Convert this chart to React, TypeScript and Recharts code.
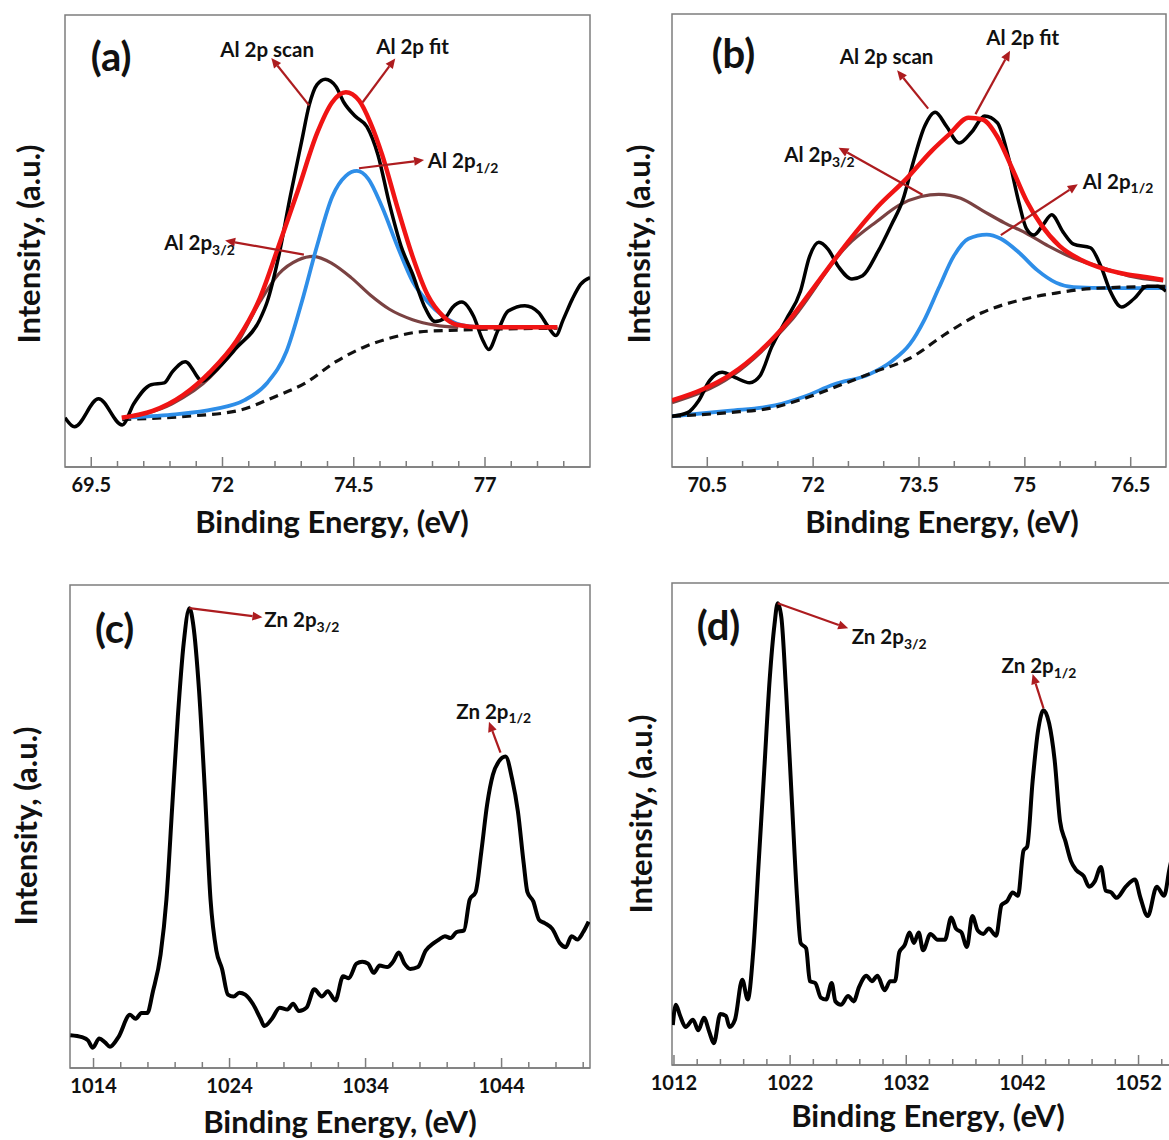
import React from "react";
import { LineChart, Line, XAxis, YAxis, ReferenceArea, ReferenceLine, ReferenceDot } from "recharts";

type Pt = [number, number];

const FONT = "Lato, 'Open Sans', sans-serif";
const ARROW = "#ad1c1f";
const BOX = "#7d7d7d";

// ---------- panel (a): Al 2p ----------
const aTicks = [69.5, 70, 70.5, 71, 71.5, 72, 72.5, 73, 73.5, 74, 74.5, 75, 75.5, 76, 76.5, 77, 77.5, 78, 78.5];
const aMajor = [69.5, 72, 74.5, 77];

const aScan: Pt[] = [
  [69.0, 10.9], [69.18, 8.9], [69.64, 15.1], [70.09, 9.3], [70.31, 14], [70.64, 18.2], [70.89, 18.6],
  [71.04, 21], [71.29, 23.3], [71.62, 19.0], [71.84, 21], [72.27, 26.4], [72.71, 32.6], [72.85, 36.5],
  [73.07, 46.6], [73.29, 59.8], [73.51, 72.2], [73.65, 80], [73.8, 84.6], [73.96, 85.8], [74.16, 84.2],
  [74.31, 80.7], [74.53, 77.6], [74.75, 75.3], [74.96, 69.1], [75.18, 58.2], [75.4, 48.9], [75.62, 42.7],
  [75.84, 35.7], [76.05, 32.2], [76.24, 33], [76.38, 35.3], [76.56, 36.5], [76.78, 33.4], [76.96, 28],
  [77.07, 26], [77.25, 30.3], [77.44, 34.5], [77.76, 35.7], [78.02, 34.2], [78.2, 31.1], [78.35, 29.1],
  [78.49, 32.6], [78.67, 37.3], [78.82, 40.4], [79.0, 41.9],
];
const aFit: Pt[] = [
  [70.08, 10.9], [70.67, 12.4], [71.25, 15.9], [71.76, 21], [72.27, 28], [72.71, 37.3], [73.07, 48.9],
  [73.44, 61.3], [73.8, 73.8], [74.09, 80.7], [74.35, 82.9], [74.6, 81.1], [74.82, 76.1], [75.04, 69.1],
  [75.33, 57.5], [75.62, 46.6], [75.91, 38], [76.2, 33.4], [76.49, 31.4], [76.93, 30.9], [78.38, 30.9],
];
const aHalf: Pt[] = [
  [70.09, 10.9], [71.04, 11.6], [71.84, 12.8], [72.42, 14.8], [72.85, 18.6], [73.22, 25.6], [73.51, 36.5],
  [73.8, 48.9], [74.09, 59.8], [74.35, 64.4], [74.56, 65.5], [74.78, 63.7], [75.04, 57.5], [75.33, 48.9],
  [75.62, 41.1], [75.91, 36.5], [76.2, 33.4], [76.56, 31.4], [76.93, 30.9],
];
const aThreeHalf: Pt[] = [
  [70.09, 10.9], [71.04, 14], [71.76, 19.8], [72.27, 27.2], [72.71, 36.5], [73.07, 42.7], [73.44, 45.8],
  [73.73, 46.6], [74.09, 45], [74.45, 41.9], [74.82, 38], [75.18, 34.9], [75.62, 32.6], [76.05, 31.4],
  [76.49, 30.9],
];
const aBase: Pt[] = [
  [70.09, 10.5], [71.4, 11.3], [72.27, 12.4], [72.99, 15.5], [73.58, 18.6], [74.16, 23.3], [74.67, 26.4],
  [75.25, 28.7], [75.76, 29.9], [76.49, 30.3], [78.38, 30.7],
];

// ---------- panel (b): Al 2p ----------
const bTicks = [70.5, 71, 71.5, 72, 72.5, 73, 73.5, 74, 74.5, 75, 75.5, 76, 76.5];
const bMajor = [70.5, 72, 73.5, 75, 76.5];

const bScan: Pt[] = [
  [70.0, 11.2], [70.22, 12], [70.38, 14.7], [70.53, 19], [70.71, 20.9], [70.89, 19.8], [71.1, 18.6],
  [71.25, 20.2], [71.41, 26.4], [71.62, 32.6], [71.82, 38.8], [71.95, 46.5], [72.08, 49.6], [72.21, 48.1],
  [72.36, 44.2], [72.55, 41.5], [72.7, 42.2], [72.91, 47.3], [73.11, 53.5], [73.27, 58.9], [73.42, 67.4],
  [73.58, 75.2], [73.73, 78.3], [73.89, 75.2], [74.07, 71.5], [74.25, 74], [74.43, 77.5], [74.61, 76],
  [74.77, 68.2], [74.92, 58.1], [75.02, 52.7], [75.13, 51.2], [75.26, 53.5], [75.38, 55.7], [75.54, 51.9],
  [75.69, 49.2], [75.93, 48.4], [76.08, 44.2], [76.21, 38.8], [76.37, 35.3], [76.55, 37.2], [76.73, 39.9],
  [76.88, 39.9], [77.0, 38.8],
];
const bFit: Pt[] = [
  [70.0, 14.7], [70.43, 17.1], [70.84, 20.5], [71.25, 25.6], [71.67, 32.6], [72.08, 41.1], [72.49, 49.6],
  [72.91, 57.4], [73.32, 63.6], [73.68, 69.8], [73.94, 73.6], [74.2, 77.1], [74.4, 76.7], [74.61, 72.9],
  [74.82, 65.9], [75.02, 58.9], [75.23, 53.5], [75.49, 48.8], [75.8, 45.7], [76.11, 43.8], [76.42, 42.6],
  [76.73, 41.9], [76.96, 41.3],
];
const bThreeHalf: Pt[] = [
  [70.0, 14.2], [70.84, 20], [71.67, 32], [72.49, 49], [72.91, 54.3], [73.22, 57.8], [73.53, 59.7],
  [73.78, 60.2], [74.09, 59.3], [74.4, 56.6], [74.71, 53.9], [75.02, 51.6], [75.33, 48.8], [75.69, 46.1],
  [76.06, 44.2], [76.47, 42.2], [76.96, 41.1],
];
const bHalf: Pt[] = [
  [70.0, 11.2], [70.79, 12.4], [71.46, 13.6], [71.87, 15.5], [72.29, 18.2], [72.8, 20.5], [73.11, 23.3],
  [73.37, 27.1], [73.58, 32.6], [73.78, 39.5], [73.99, 46.5], [74.2, 50.4], [74.46, 51.3], [74.66, 50.4],
  [74.92, 47.3], [75.18, 43.4], [75.44, 40.7], [75.69, 39.7], [76.21, 39.5], [77.0, 39.5],
];
const bBase: Pt[] = [
  [70.0, 11.2], [70.79, 12], [71.46, 13.2], [71.87, 15.1], [72.34, 17.8], [72.85, 20.9], [73.37, 24],
  [73.89, 29.5], [74.4, 34.1], [74.92, 36.8], [75.44, 38.4], [75.95, 39.4], [77.0, 39.9],
];

// ---------- panel (c): Zn 2p ----------
const cTicks = [1014, 1016, 1018, 1020, 1022, 1024, 1026, 1028, 1030, 1032, 1034, 1036, 1038, 1040, 1042, 1044, 1046, 1048, 1050];
const cMajor = [1014, 1024, 1034, 1044];

const cScan: Pt[] = [
  [1012.3, 6.8], [1013.15, 6.4], [1013.6, 5.7], [1013.94, 4.2], [1014.42, 6.1], [1014.84, 5.3], [1015.21, 4.4],
  [1015.83, 6.4], [1016.68, 11], [1017.1, 10.2], [1017.52, 11.4], [1017.95, 11.4], [1018.37, 15.9],
  [1018.93, 23.5], [1019.36, 34.9], [1019.78, 53.9], [1020.2, 72.8], [1020.63, 88], [1021.05, 95.2],
  [1021.33, 91.8], [1021.76, 78.1], [1022.18, 57.7], [1022.6, 34.9], [1023.03, 24.3], [1023.45, 20.5],
  [1023.88, 15.2], [1024.3, 14.8], [1024.72, 15.6], [1025.15, 15.2], [1025.71, 13.3], [1026.28, 10.2],
  [1026.56, 8.7], [1027.12, 10.2], [1027.69, 12.5], [1028.25, 12.1], [1028.67, 13.3], [1029.1, 11.8],
  [1029.66, 12.5], [1030.23, 16.3], [1030.79, 14.8], [1031.22, 15.9], [1031.78, 14], [1032.35, 19],
  [1032.77, 18.6], [1033.33, 21.6], [1033.76, 22], [1034.18, 21.6], [1034.6, 19.7], [1035.03, 21.2],
  [1035.59, 20.9], [1036.02, 22], [1036.44, 23.9], [1036.86, 21.6], [1037.29, 20.5], [1037.85, 20.9],
  [1038.42, 24.3], [1038.98, 25.8], [1039.4, 26.6], [1039.83, 27.3], [1040.25, 26.9], [1040.67, 28.1],
  [1041.24, 28.5], [1041.66, 34.9], [1042.09, 36.4], [1042.51, 44.8], [1042.94, 54.6], [1043.36, 60.7],
  [1043.78, 63.4], [1044.29, 64.5], [1044.77, 59.9], [1045.2, 53.1], [1045.62, 42.5], [1045.9, 36.4],
  [1046.33, 34.5], [1046.75, 30.7], [1047.17, 30], [1047.73, 28.8], [1048.3, 25.8], [1048.72, 25],
  [1049.14, 27.3], [1049.57, 26.6], [1049.99, 28.1], [1050.4, 30.3],
];

// ---------- panel (d): Zn 2p ----------
const dTicks = [1012, 1014, 1016, 1018, 1020, 1022, 1024, 1026, 1028, 1030, 1032, 1034, 1036, 1038, 1040, 1042, 1044, 1046, 1048, 1050, 1052, 1054];
const dMajor = [1012, 1022, 1032, 1042, 1052];

const dScan: Pt[] = [
  [1011.9, 8.3], [1012.16, 12.5], [1012.53, 10.2], [1013.0, 7.9], [1013.64, 9.4], [1014.1, 7.2], [1014.58, 9.8],
  [1015.05, 6.8], [1015.43, 4.5], [1015.99, 10.6], [1016.47, 10.2], [1016.78, 7.9], [1017.25, 9.4],
  [1017.88, 17.7], [1018.35, 13.6], [1018.82, 23.4], [1019.3, 42.3], [1019.77, 61.1], [1020.24, 80],
  [1020.65, 91.3], [1020.93, 95.8], [1021.25, 92.8], [1021.65, 77.7], [1022.13, 55.8], [1022.6, 34.7],
  [1022.91, 25.3], [1023.38, 24.2], [1023.7, 17.4], [1024.17, 17], [1024.64, 14], [1025.11, 13.6],
  [1025.58, 17], [1025.9, 13.2], [1026.37, 12.5], [1027.0, 14.3], [1027.47, 13.2], [1027.94, 16.2],
  [1028.57, 18.5], [1029.04, 17.4], [1029.52, 18.5], [1030.14, 15.5], [1030.62, 17.4], [1031.03, 17.4],
  [1031.4, 23.4], [1031.87, 24.9], [1032.28, 27.5], [1032.66, 25.3], [1033.07, 27.5], [1033.45, 23.8],
  [1034.08, 27.2], [1034.7, 26], [1035.33, 26], [1035.87, 30.6], [1036.28, 28.3], [1036.75, 27.5],
  [1037.22, 24.5], [1037.69, 30.9], [1038.16, 27.9], [1038.64, 27.2], [1039.1, 28.3], [1039.74, 26.8],
  [1040.2, 33.2], [1040.68, 34], [1041.16, 35.8], [1041.62, 35.1], [1042.1, 44.5], [1042.41, 45.3],
  [1042.88, 58.9], [1043.35, 69.4], [1043.82, 73.6], [1044.3, 70.9], [1044.77, 63.4], [1045.24, 50.6],
  [1045.71, 46.4], [1046.18, 42.3], [1046.65, 40.4], [1047.28, 39.2], [1047.75, 37], [1048.23, 38.1],
  [1048.76, 41.1], [1049.17, 36.2], [1049.64, 35.8], [1050.11, 34.7], [1050.9, 37], [1051.69, 38.5],
  [1052.16, 34.7], [1052.79, 30.9], [1053.57, 37], [1054.2, 35.1], [1054.67, 40.8], [1055.2, 46],
];

type Series = { pts: Pt[]; color: string; width: number; dash?: string };
type Note = { at: Pt; text: string; sub?: string; size: number; anchor: "start" | "middle" };
type Arrow = { from: Pt; to: Pt };

const toRows = (pts: Pt[]) => pts.map(([x, y]) => ({ x, y }));

const makeTick = (major: number[]) => (p: any) => {
  const { x, y, payload } = p;
  const isMajor = major.includes(payload.value);
  return (
    <g>
      <line x1={x} x2={x} y1={y} y2={y - (isMajor ? 10 : 6)} stroke={BOX} strokeWidth={1.5} />
      {isMajor && (
        <text x={x} y={y + 25} textAnchor="middle" fontFamily={FONT} fontWeight={700} fontSize={20} fill="#111">
          {payload.value}
        </text>
      )}
    </g>
  );
};

const arrowShape = (p: any) => {
  const { x1, y1, x2, y2 } = p;
  const a = Math.atan2(y2 - y1, x2 - x1);
  const L = 10;
  const H = 4.5;
  const bx = x2 - L * Math.cos(a);
  const by = y2 - L * Math.sin(a);
  const px = -Math.sin(a) * H;
  const py = Math.cos(a) * H;
  return (
    <g>
      <line x1={x1} y1={y1} x2={bx} y2={by} stroke={ARROW} strokeWidth={2.2} />
      <polygon points={`${x2},${y2} ${bx + px},${by + py} ${bx - px},${by - py}`} fill={ARROW} />
    </g>
  );
};

const noteShape = (n: Note) => (p: any) => (
  <text
    x={p.cx}
    y={p.cy}
    textAnchor={n.anchor}
    dominantBaseline="central"
    fontFamily={FONT}
    fontWeight={700}
    fontSize={n.size}
    fill="#111"
  >
    {n.text}
    {n.sub && (
      <tspan fontSize={n.size * 0.68} dy={n.size * 0.32}>
        {n.sub}
      </tspan>
    )}
  </text>
);

type PanelProps = {
  left: number;
  top: number;
  width: number;
  height: number;
  margin: { top: number; left: number; right: number; bottom: number };
  domain: [number, number];
  ticks: number[];
  major: number[];
  series: Series[];
  notes: Note[];
  arrows: Arrow[];
};

function Panel({ left, top, width, height, margin, domain, ticks, major, series, notes, arrows }: PanelProps) {
  return (
    <div style={{ position: "absolute", left, top }}>
      <LineChart width={width} height={height} margin={margin}>
        <XAxis
          type="number"
          dataKey="x"
          domain={domain}
          allowDataOverflow
          ticks={ticks}
          interval={0}
          tickSize={0}
          tickMargin={0}
          tickLine={false}
          axisLine={{ stroke: BOX, strokeWidth: 1.5 }}
          tick={makeTick(major)}
          height={40}
        />
        <YAxis type="number" domain={[0, 100]} hide allowDataOverflow />
        <ReferenceArea x1={domain[0]} x2={domain[1]} y1={0} y2={100} fill="none" stroke={BOX} strokeWidth={1.5} ifOverflow="visible" />
        {series.map((s, i) => (
          <Line
            key={i}
            data={toRows(s.pts)}
            dataKey="y"
            type="monotone"
            stroke={s.color}
            strokeWidth={s.width}
            strokeDasharray={s.dash}
            dot={false}
            activeDot={false}
            isAnimationActive={false}
          />
        ))}
        {arrows.map((a, i) => (
          <ReferenceLine
            key={"a" + i}
            segment={[{ x: a.from[0], y: a.from[1] }, { x: a.to[0], y: a.to[1] }]}
            shape={arrowShape}
            ifOverflow="visible"
          />
        ))}
        {notes.map((n, i) => (
          <ReferenceDot key={"n" + i} x={n.at[0]} y={n.at[1]} r={1} shape={noteShape(n)} ifOverflow="visible" />
        ))}
      </LineChart>
    </div>
  );
}

const titleStyle: React.CSSProperties = {
  position: "absolute",
  fontFamily: FONT,
  fontWeight: 700,
  fontSize: 31,
  color: "#111",
  whiteSpace: "nowrap",
  lineHeight: 1,
  transform: "translate(-50%, -50%)",
};

function Title({ x, y, text, rotate }: { x: number; y: number; text: string; rotate?: boolean }) {
  return (
    <div style={{ ...titleStyle, left: x, top: y, transform: rotate ? "translate(-50%, -50%) rotate(-90deg)" : titleStyle.transform }}>
      {text}
    </div>
  );
}

const SCAN = "#000";
const FIT = "#f01414";
const HALF = "#2e8ee8";
const THREE = "#7a4242";
const NOTE = 20.5;

export default function App() {
  return (
    <div style={{ position: "absolute", left: 0, top: 0, width: 1169, height: 1140, overflow: "hidden", background: "#fff" }}>
      <Panel
        left={0}
        top={0}
        width={600}
        height={560}
        margin={{ top: 15, left: 65, right: 10, bottom: 53 }}
        domain={[69, 79]}
        ticks={aTicks}
        major={aMajor}
        series={[
          { pts: aBase, color: "#111", width: 3.2, dash: "9 6" },
          { pts: aThreeHalf, color: THREE, width: 3.2 },
          { pts: aHalf, color: HALF, width: 3.8 },
          { pts: aScan, color: SCAN, width: 3.5 },
          { pts: aFit, color: FIT, width: 4.5 },
        ]}
        arrows={[
          { from: [73.65, 80.0], to: [72.93, 90.5] },
          { from: [74.67, 80.7], to: [75.29, 90.4] },
          { from: [74.6, 66.1], to: [75.84, 67.9] },
          { from: [73.55, 47], to: [72.05, 50.1] },
        ]}
        notes={[
          { at: [69.88, 90.9], text: "(a)", size: 40, anchor: "middle" },
          { at: [72.85, 92.4], text: "Al 2p scan", size: NOTE, anchor: "middle" },
          { at: [75.62, 93.2], text: "Al 2p fit", size: NOTE, anchor: "middle" },
          { at: [75.91, 67.9], text: "Al 2p", sub: "1/2", size: NOTE, anchor: "start" },
          { at: [70.89, 49.7], text: "Al 2p", sub: "3/2", size: NOTE, anchor: "start" },
        ]}
      />
      <Panel
        left={600}
        top={0}
        width={569}
        height={560}
        margin={{ top: 14, left: 72, right: 3, bottom: 53 }}
        domain={[70, 77]}
        ticks={bTicks}
        major={bMajor}
        series={[
          { pts: bHalf, color: HALF, width: 3.8 },
          { pts: bBase, color: "#111", width: 3.2, dash: "9 6" },
          { pts: bThreeHalf, color: THREE, width: 3.2 },
          { pts: bScan, color: SCAN, width: 3.5 },
          { pts: bFit, color: FIT, width: 4.5 },
        ]}
        arrows={[
          { from: [73.63, 79.1], to: [73.19, 87.6] },
          { from: [74.3, 77.9], to: [74.79, 91.9] },
          { from: [73.55, 60.1], to: [72.36, 70.5] },
          { from: [74.66, 51.2], to: [75.75, 62.4] },
        ]}
        notes={[
          { at: [70.87, 91.5], text: "(b)", size: 40, anchor: "middle" },
          { at: [73.04, 90.7], text: "Al 2p scan", size: NOTE, anchor: "middle" },
          { at: [74.97, 95], text: "Al 2p fit", size: NOTE, anchor: "middle" },
          { at: [71.59, 69], text: "Al 2p", sub: "3/2", size: NOTE, anchor: "start" },
          { at: [75.82, 63.2], text: "Al 2p", sub: "1/2", size: NOTE, anchor: "start" },
        ]}
      />
      <Panel
        left={0}
        top={570}
        width={600}
        height={570}
        margin={{ top: 15, left: 70, right: 10, bottom: 32 }}
        domain={[1012.27, 1050.5]}
        ticks={cTicks}
        major={cMajor}
        series={[{ pts: cScan, color: SCAN, width: 4 }]}
        arrows={[
          { from: [1021.05, 95.2], to: [1026.42, 93.3] },
          { from: [1043.92, 65.3], to: [1043.07, 71.7] },
        ]}
        notes={[
          { at: [1015.55, 91], text: "(c)", size: 40, anchor: "middle" },
          { at: [1026.56, 92.9], text: "Zn 2p", sub: "3/2", size: NOTE, anchor: "start" },
          { at: [1040.67, 74], text: "Zn 2p", sub: "1/2", size: NOTE, anchor: "start" },
        ]}
      />
      <Panel
        left={600}
        top={570}
        width={600}
        height={570}
        margin={{ top: 13, left: 72, right: 15, bottom: 35 }}
        domain={[1011.83, 1056]}
        ticks={dTicks}
        major={dMajor}
        series={[{ pts: dScan, color: SCAN, width: 4 }]}
        arrows={[
          { from: [1020.93, 95.8], to: [1027.0, 90.6] },
          { from: [1043.82, 74], to: [1042.88, 81.1] },
        ]}
        notes={[
          { at: [1015.84, 91.3], text: "(d)", size: 40, anchor: "middle" },
          { at: [1027.3, 89], text: "Zn 2p", sub: "3/2", size: NOTE, anchor: "start" },
          { at: [1040.2, 83], text: "Zn 2p", sub: "1/2", size: NOTE, anchor: "start" },
        ]}
      />
      <Title x={332} y={521} text="Binding Energy, (eV)" />
      <Title x={28} y={244} text="Intensity, (a.u.)" rotate />
      <Title x={942} y={521} text="Binding Energy, (eV)" />
      <Title x={638} y={244} text="Intensity, (a.u.)" rotate />
      <Title x={340} y={1121} text="Binding Energy, (eV)" />
      <Title x={25} y={826} text="Intensity, (a.u.)" rotate />
      <Title x={928} y={1115} text="Binding Energy, (eV)" />
      <Title x={640} y={814} text="Intensity, (a.u.)" rotate />
    </div>
  );
}
